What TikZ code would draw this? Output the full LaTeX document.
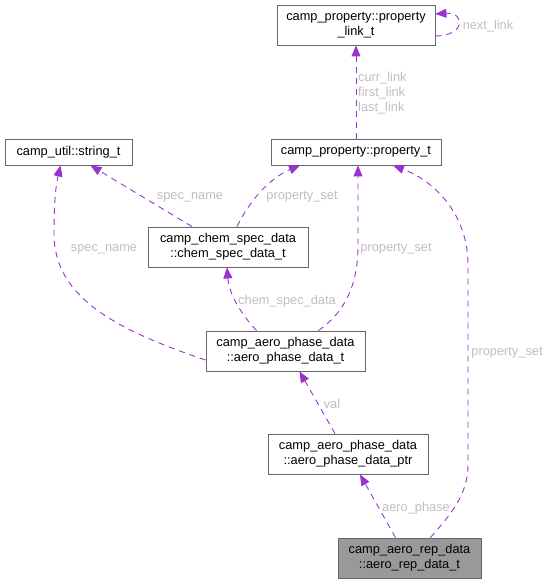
\documentclass[tikz,border=0pt]{standalone}
\usepackage{fontspec}
\setmainfont{Liberation Sans}
\usetikzlibrary{arrows.meta,calc}
\definecolor{edgec}{HTML}{9A32CD}
\definecolor{labc}{HTML}{BEBEBE}
\definecolor{boxc}{HTML}{666666}
\definecolor{hil}{HTML}{999999}
\begin{document}
\begin{tikzpicture}[x=1pt,y=-1pt,
  box/.style={draw=boxc,line width=0.9pt,fill=white,inner sep=0pt,align=center,
    font=\fontsize{12.8}{14.8}\selectfont,text=black},
  dep/.style={draw=edgec,line width=0.9pt,dash pattern=on 6pt off 5pt,
    -{Triangle[length=11pt,width=9pt]}},
  lab/.style={text=labc,font=\fontsize{12.8}{14.8}\selectfont,inner sep=0pt}]
\useasboundingbox (0,0) rectangle (548,585);
% nodes
\node[box,minimum width=158pt,minimum height=40pt] (link) at (356,25) {camp\_property::property\\\_link\_t};
\node[box,minimum width=170pt,minimum height=26pt] (prop) at (356,152) {camp\_property::property\_t};
\node[box,minimum width=127pt,minimum height=26pt] (str) at (68.5,152) {camp\_util::string\_t};
\node[box,minimum width=160pt,minimum height=40pt] (chem) at (228,247) {camp\_chem\_spec\_data\\::chem\_spec\_data\_t};
\node[box,minimum width=159pt,minimum height=40pt] (phase) at (285.5,351) {camp\_aero\_phase\_data\\::aero\_phase\_data\_t};
\node[box,minimum width=160pt,minimum height=40pt] (ptr) at (348,454) {camp\_aero\_phase\_data\\::aero\_phase\_data\_ptr};
\node[box,fill=hil,minimum width=143pt,minimum height=40pt] (rep) at (409.5,558) {camp\_aero\_rep\_data\\::aero\_rep\_data\_t};
% edges
\draw[dep] (prop.north) -- (link.south);
\node[lab,anchor=west,align=left] (l1) at (358,93) {curr\_link\\first\_link\\last\_link};
\draw[dep] ([yshift=-11pt]link.east) .. controls +(30,0) and +(30,-2) .. ([yshift=11pt]link.east);
\node[lab] (l2) at (488,26) {next\_link};
\draw[dep] ([xshift=-36pt]chem.north) -- ([xshift=22pt]str.south);
\node[lab] (l3) at (190,197) {spec\_name};
\draw[dep] ([xshift=9pt]chem.north) .. controls (250,200) and (270,178) .. ([xshift=-56pt]prop.south);
\node[lab] (l4) at (302,197) {property\_set};
\draw[dep] ([yshift=-9pt]phase.west) .. controls (110,328) and (55,295) .. (54,235) .. controls (54,200) and (56,185) .. ([xshift=-8pt]str.south);
\node[lab] (l5) at (104,249) {spec\_name};
\draw[dep] ([xshift=-29pt]phase.north) .. controls (240,313) and (229,293) .. ([xshift=-1pt]chem.south);
\node[lab] (l6) at (287,301) {chem\_spec\_data};
\draw[dep] ([xshift=33pt]phase.north) .. controls (345,312) and (358,285) .. (358,245) -- ([xshift=2pt]prop.south);
\node[lab] (l7) at (396,249) {property\_set};
\draw[dep] ([xshift=-13pt]ptr.north) -- ([xshift=14pt]phase.south);
\node[lab] (l8) at (332,404) {val};
\draw[dep] ([xshift=-14pt]rep.north) -- ([xshift=12pt]ptr.south);
\node[lab] (l9) at (416,508) {aero\_phase};
\draw[dep] ([xshift=21pt]rep.north) .. controls (450,515) and (468,495) .. (468,465) -- (468,265) .. controls (468,212) and (432,180) .. ([xshift=37pt]prop.south);
\node[lab] (l10) at (507,353) {property\_set};
\end{tikzpicture}
\end{document}
